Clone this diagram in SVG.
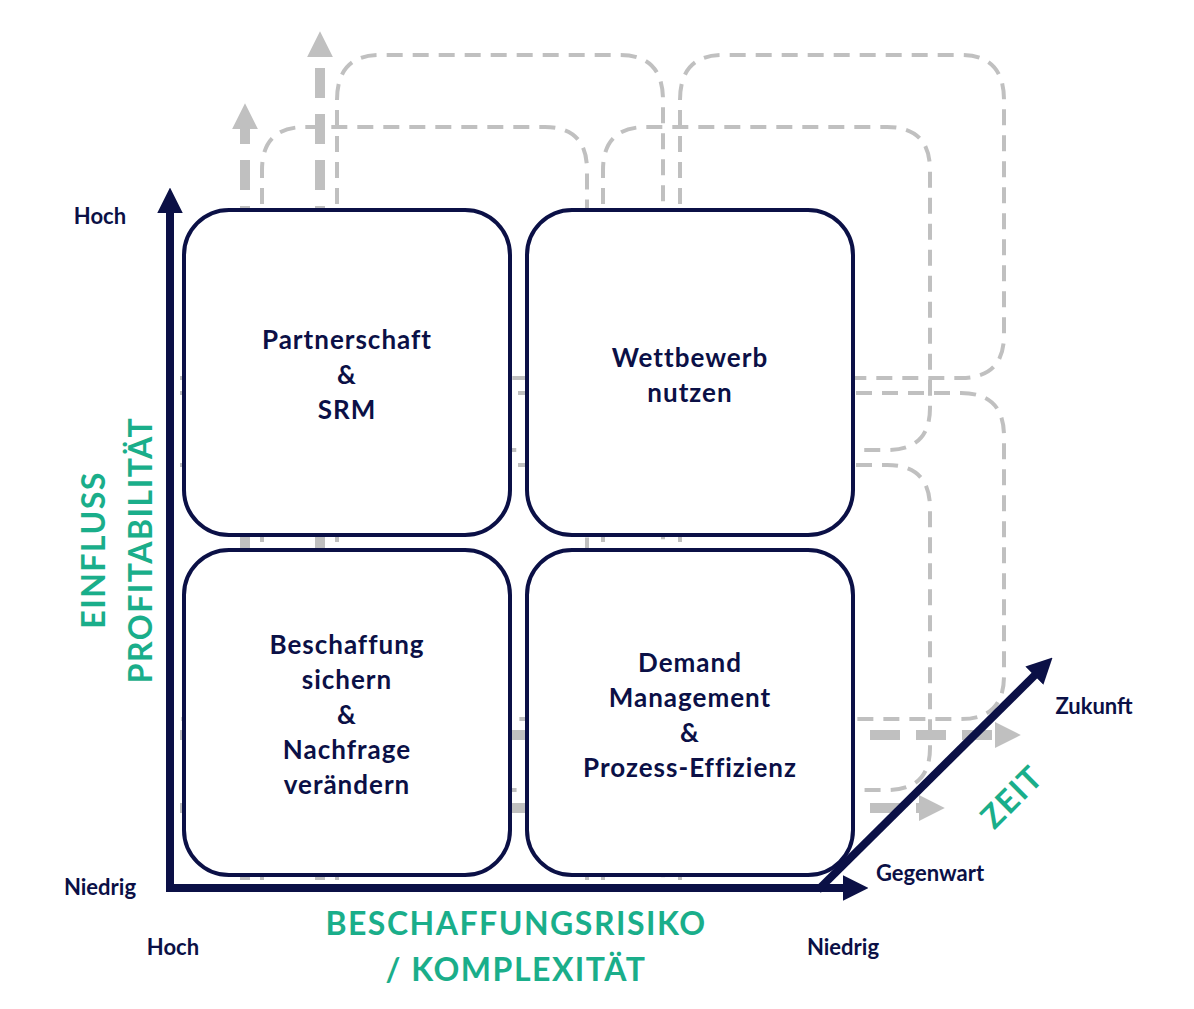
<svg xmlns="http://www.w3.org/2000/svg" width="1194" height="1009" viewBox="0 0 1194 1009">
<defs>
<style>
.thin{fill:none;stroke:#c0c0c0;stroke-width:4;stroke-dasharray:16 10}
.thick{fill:none;stroke:#c0c0c0;stroke-width:10;stroke-dasharray:30 16}
.ax{fill:none;stroke:#0b1046;stroke-width:8}
.box{fill:#fff;stroke:#0b1046;stroke-width:4}
.bt{font-family:Lato,"Liberation Sans",sans-serif;font-weight:700;font-size:26px;fill:#0b1046;text-anchor:middle;letter-spacing:1px}
.lb{font-family:Lato,"Liberation Sans",sans-serif;font-weight:700;font-size:22px;fill:#0b1046;text-anchor:middle}
.gt{font-family:Lato,"Liberation Sans",sans-serif;font-weight:700;font-size:32px;fill:#1aae8a;text-anchor:middle;letter-spacing:1.5px}
</style>
<marker id="ga" viewBox="0 0 10 10" refX="2" refY="5" markerWidth="2.6" markerHeight="2.6" orient="auto" markerUnits="strokeWidth"><path d="M0,0L10,5L0,10z" fill="#c0c0c0"/></marker>
<marker id="na" viewBox="0 0 10 10" refX="2" refY="5" markerWidth="3.2" markerHeight="3.2" orient="auto" markerUnits="strokeWidth"><path d="M0,0L10,5L0,10z" fill="#0b1046"/></marker>
</defs>
<g id="connectors">
<path class="thin" d="M337,880V100Q337,55 380,55H620Q663,55 663,100V880"/>
<path class="thin" d="M680,880V100Q680,55 723,55H961Q1004,55 1004,100V335Q1004,378 961,378H180"/>
<path class="thin" d="M180,393H961Q1004,393 1004,436V676Q1004,719 961,719H180"/>
<path class="thin" d="M262,880V170Q262,127 305,127H545Q587,127 587,170V880"/>
<path class="thin" d="M603,880V170Q603,127 646,127H887Q930,127 930,170V408Q930,450 887,450H180"/>
<path class="thin" d="M180,465H887Q930,465 930,508V748Q930,790 887,790H180"/>
<path class="thick" d="M320,880V52" marker-end="url(#ga)"/>
<path class="thick" d="M245,880V124" marker-end="url(#ga)"/>
<path class="thick" d="M180,735H1000" marker-end="url(#ga)"/>
<path class="thick" d="M180,808H924" marker-end="url(#ga)"/>
</g>
<g id="n1"><rect class="box" x="184" y="210" width="326" height="325" rx="45"/>
<text class="bt" x="347" y="349">Partnerschaft</text><text class="bt" x="347" y="384">&amp;</text><text class="bt" x="347" y="419">SRM</text></g>
<g id="n2"><rect class="box" x="527" y="210" width="326" height="325" rx="45"/>
<text class="bt" x="690" y="367">Wettbewerb</text><text class="bt" x="690" y="402">nutzen</text></g>
<g id="n3"><rect class="box" x="184" y="550" width="326" height="325" rx="45"/>
<text class="bt" x="347" y="654">Beschaffung</text><text class="bt" x="347" y="689">sichern</text><text class="bt" x="347" y="724">&amp;</text><text class="bt" x="347" y="759">Nachfrage</text><text class="bt" x="347" y="794">verändern</text></g>
<g id="n4"><rect class="box" x="527" y="550" width="326" height="325" rx="45"/>
<text class="bt" x="690" y="672">Demand</text><text class="bt" x="690" y="707">Management</text><text class="bt" x="690" y="742">&amp;</text><text class="bt" x="690" y="777">Prozess-Effizienz</text></g>
<g id="axes">
<path class="ax" d="M170,892V208" marker-end="url(#na)"/>
<path class="ax" d="M166,888H848" marker-end="url(#na)"/>
<path class="ax" d="M818,890L1038,672" marker-end="url(#na)"/>
</g>
<g id="labels">
<text class="lb" x="100" y="224">Hoch</text>
<text class="lb" x="100" y="895">Niedrig</text>
<text class="lb" x="173" y="955">Hoch</text>
<text class="lb" x="843" y="955">Niedrig</text>
<text class="lb" x="930" y="881">Gegenwart</text>
<text class="lb" x="1094" y="714">Zukunft</text>
<text class="gt" transform="translate(93,550) rotate(-90)" y="12">EINFLUSS</text>
<text class="gt" transform="translate(140,550) rotate(-90)" y="12">PROFITABILITÄT</text>
<text class="gt" x="516" y="935">BESCHAFFUNGSRISIKO</text>
<text class="gt" x="516" y="981">/ KOMPLEXITÄT</text>
<text class="gt" transform="translate(1012,797) rotate(-45)" y="11">ZEIT</text>
</g>
</svg>
